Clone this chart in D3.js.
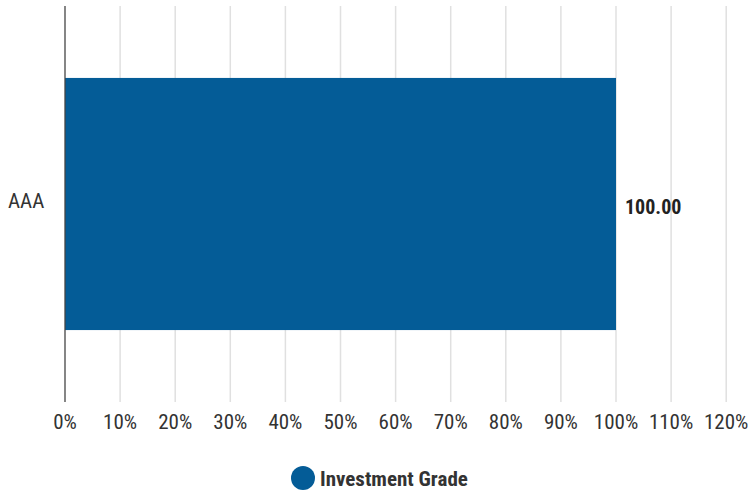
<!DOCTYPE html>
<html>
<head>
<meta charset="utf-8">
<script src="https://cdn.jsdelivr.net/npm/d3@7"></script>
<style>
html,body{margin:0;padding:0;background:#fff;}
text{font-family:"Liberation Sans Narrow","Arial Narrow","Roboto Condensed",sans-serif;}
</style>
</head>
<body>
<svg id="chart" width="750" height="490"></svg>
<script>
const categories = ["AAA"];
const values = [100.00];
const seriesName = "Investment Grade";
const tickValues = [0,10,20,30,40,50,60,70,80,90,100,110,120];
const tickLabels = ["0%","10%","20%","30%","40%","50%","60%","70%","80%","90%","100%","110%","120%"];

(function(){
const svg = d3.select("#chart");
const color = "#045c97";
const mLeft = 65, mRight = 726.2, mTop = 6, mBottom = 402;

const x = d3.scaleLinear().domain([0,120]).range([mLeft,mRight]);
const y = d3.scaleBand().domain(categories).range([mTop,mBottom]).padding(0.222);

// gridlines
svg.append("g").selectAll("line").data(tickValues.slice(1)).join("line")
  .attr("x1", d=>x(d)).attr("x2", d=>x(d))
  .attr("y1", mTop).attr("y2", mBottom)
  .attr("stroke","#e0e0e0").attr("stroke-width",1.5);

// bars
svg.append("g").selectAll("rect").data(categories).join("rect")
  .attr("x", x(0)).attr("y", d=>y(d))
  .attr("width", (d,i)=>x(values[i])-x(0))
  .attr("height", y.bandwidth())
  .attr("fill", color);

// axis line
svg.append("line").attr("x1",mLeft).attr("x2",mLeft).attr("y1",mTop).attr("y2",mBottom)
  .attr("stroke","#444").attr("stroke-width",1.3);

// x tick labels
svg.append("g").selectAll("text").data(tickValues).join("text")
  .attr("x", d=>x(d)).attr("y", 429)
  .attr("text-anchor","middle")
  .attr("font-size", 21).attr("fill","#333")
  .text((d,i)=>tickLabels[i]);

// y labels
svg.append("g").selectAll("text").data(categories).join("text")
  .attr("x", 8).attr("y", d=>y(d)+y.bandwidth()/2+4)
  .attr("font-size", 21).attr("fill","#333")
  .text(d=>d);

// value labels
svg.append("g").selectAll("text").data(categories).join("text")
  .attr("x", (d,i)=>x(values[i])+9).attr("y", d=>y(d)+y.bandwidth()/2+10)
  .attr("font-size", 20).attr("font-weight","bold").attr("fill","#222")
  .text((d,i)=>values[i].toFixed(2));

// legend
svg.append("circle").attr("cx",303).attr("cy",478).attr("r",12).attr("fill",color);
svg.append("text").attr("x",320).attr("y",486).attr("font-size",21).attr("font-weight","bold")
  .attr("fill","#333").text(seriesName);
})();
</script>
</body>
</html>
